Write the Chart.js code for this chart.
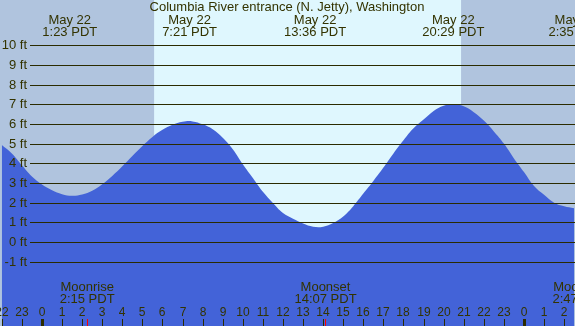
<!DOCTYPE html>
<html>
<head>
<meta charset="utf-8">
<script src="https://cdn.jsdelivr.net/npm/chart.js@4.4.0/dist/chart.umd.min.js"></script>
<style>
  html, body { margin: 0; padding: 0; background: #fff; }
  #TideChart { display: block; }
</style>
</head>
<body>
<canvas id="TideChart" width="575" height="326"></canvas>
<script>
// tide height (ft), every half hour from 22:00 the day before
const hours = [-2, -1.5, -1, -0.5, 0, 0.5, 1, 1.5, 2, 2.5, 3, 3.5, 4, 4.5, 5, 5.5, 6, 6.5, 7, 7.5,
  8, 8.5, 9, 9.5, 10, 10.5, 11, 11.5, 12, 12.5, 13, 13.5, 14, 14.5, 15, 15.5, 16, 16.5, 17, 17.5,
  18, 18.5, 19, 19.5, 20, 20.5, 21, 21.5, 22, 22.5, 23, 23.5, 24, 24.5, 25, 25.5, 26, 26.5];
const heights = [4.93, 4.5, 3.9, 3.33, 2.92, 2.63, 2.43, 2.35, 2.41, 2.6, 2.94, 3.36, 3.85, 4.37, 4.88, 5.34, 5.7, 5.96, 6.11, 6.13,
  5.98, 5.73, 5.3, 4.72, 3.95, 3.25, 2.55, 1.98, 1.47, 1.18, 0.94, 0.78, 0.78, 0.97, 1.3, 1.82, 2.46, 3.1, 3.78, 4.5,
  5.17, 5.78, 6.22, 6.66, 6.93, 7.0, 6.9, 6.6, 6.17, 5.62, 5.0, 4.25, 3.56, 2.85, 2.4, 2.0, 1.82, 1.72];

// highs and lows
const extremeTimes = [1.383, 7.35, 13.6, 20.483, 26.583];
const extremeDays = ['May 22', 'May 22', 'May 22', 'May 22', 'May 23'];
const extremeLabels = ['1:23 PDT', '7:21 PDT', '13:36 PDT', '20:29 PDT', '2:35 PDT'];

// moon
const moonTimes = [2.25, 14.117, 26.783];
const moonNames = ['Moonrise', 'Moonset', 'Moonrise'];
const moonLabels = ['2:15 PDT', '14:07 PDT', '2:47 PDT'];

// sunrise / sunset
const sunTimes = [5.583, 20.867];

const footLevels = [-1, 0, 1, 2, 3, 4, 5, 6, 7, 8, 9, 10];
const hourTicks = [-2, -1, 0, 1, 2, 3, 4, 5, 6, 7, 8, 9, 10, 11, 12, 13, 14, 15, 16, 17, 18, 19, 20, 21, 22, 23, 24, 25, 26];
const hourLabels = ['22', '23', '0', '1', '2', '3', '4', '5', '6', '7', '8', '9', '10', '11', '12', '13',
  '14', '15', '16', '17', '18', '19', '20', '21', '22', '23', '0', '1', '2'];

const FONT = "'Liberation Sans', Arial, sans-serif";
const TEXT = '#333300';

const skyPlugin = {
  id: 'sky',
  beforeDatasetsDraw(chart) {
    const ctx = chart.ctx;
    const x = chart.scales.x;
    const area = chart.chartArea;
    ctx.save();
    ctx.fillStyle = '#b0c4de';
    ctx.fillRect(area.left, area.top, area.right - area.left, area.bottom - area.top);
    const x1 = x.getPixelForValue(sunTimes[0]);
    const x2 = x.getPixelForValue(sunTimes[1]);
    ctx.fillStyle = '#dff7fe';
    ctx.fillRect(x1, area.top, x2 - x1, area.bottom - area.top);
    ctx.restore();
  }
};

const labelPlugin = {
  id: 'labels',
  afterDatasetsDraw(chart) {
    const ctx = chart.ctx;
    const x = chart.scales.x;
    const y = chart.scales.y;
    ctx.save();

    // grid lines + foot labels
    ctx.strokeStyle = '#2b2b00';
    ctx.lineWidth = 1.2;
    ctx.fillStyle = TEXT;
    ctx.font = '13px ' + FONT;
    ctx.textAlign = 'right';
    ctx.textBaseline = 'middle';
    footLevels.forEach((ft) => {
      const py = Math.round(y.getPixelForValue(ft)) + 0.5;
      ctx.beginPath();
      ctx.moveTo(30, py);
      ctx.lineTo(chart.width, py);
      ctx.stroke();
      ctx.fillText(ft + ' ft', 27, py);
    });

    // title
    ctx.textAlign = 'center';
    ctx.textBaseline = 'alphabetic';
    ctx.fillText('Columbia River entrance (N. Jetty), Washington', 287, 11);

    // high / low times
    extremeTimes.forEach((t, i) => {
      const px = x.getPixelForValue(t);
      ctx.fillText(extremeDays[i], px, 24);
      ctx.fillText(extremeLabels[i], px, 36);
    });

    // moon rise / set
    moonTimes.forEach((t, i) => {
      const px = x.getPixelForValue(t);
      ctx.fillText(moonNames[i], px, 291);
      ctx.fillText(moonLabels[i], px, 303);
    });

    // hour axis
    ctx.font = '12px ' + FONT;
    hourTicks.forEach((h, i) => {
      const px = Math.round(x.getPixelForValue(h));
      ctx.fillText(hourLabels[i], px, 316);
      ctx.fillStyle = '#2b2b00';
      if (hourLabels[i] === '0') {
        ctx.fillRect(px - 1, 319, 3, 7);
      } else {
        ctx.fillRect(px, 319, 1, 7);
      }
      ctx.fillStyle = TEXT;
    });
    ctx.fillStyle = '#ff0000';
    moonTimes.forEach((t) => {
      const px = Math.round(x.getPixelForValue(t));
      ctx.fillRect(px, 319, 1, 7);
    });

    ctx.restore();
  }
};

const ctx = document.getElementById('TideChart').getContext('2d');
new Chart(ctx, {
  type: 'line',
  data: {
    datasets: [{
      data: hours.map((h, i) => ({ x: h, y: heights[i] })),
      fill: 'start',
      backgroundColor: '#4363d8',
      borderWidth: 0,
      pointRadius: 0,
      tension: 0.4
    }]
  },
  options: {
    responsive: false,
    animation: false,
    layout: { padding: 0 },
    plugins: { legend: { display: false }, tooltip: { enabled: false } },
    scales: {
      x: { type: 'linear', min: -2.09, max: 26.54, display: false },
      y: { min: -4.27, max: 12.3, display: false }
    }
  },
  plugins: [skyPlugin, labelPlugin]
});
</script>
</body>
</html>
